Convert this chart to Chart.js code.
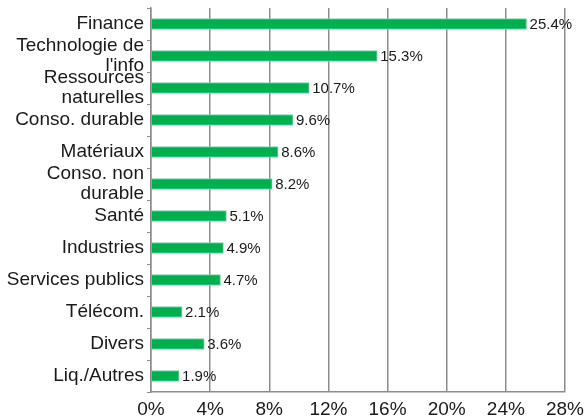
<!DOCTYPE html>
<html>
<head>
<meta charset="utf-8">
<script src="https://cdn.jsdelivr.net/npm/chart.js@4/dist/chart.umd.min.js"></script>
<style>
  html, body { margin: 0; padding: 0; background: #fff; }
  #wrap { width: 584px; height: 418px; }
</style>
</head>
<body>
<div id="wrap"><canvas id="secteursChart" width="584" height="418"></canvas></div>
<script>
const secteurs = [
    'Finance', ['Technologie de', "l'info"], ['Ressources', 'naturelles'], 'Conso. durable',
    'Matériaux', ['Conso. non', 'durable'], 'Santé', 'Industries', 'Services publics',
    'Télécom.', 'Divers', 'Liq./Autres'
];
const poids = [25.4, 15.3, 10.7, 9.6, 8.6, 8.2, 5.1, 4.9, 4.7, 2.1, 3.6, 1.9];
const xTicks = [0, 4, 8, 12, 16, 20, 24, 28];

const gris = '#8c8c8c';
const police = 'Liberation Sans, Arial, sans-serif';

// étiquettes de valeur au bout de chaque barre
const valeurPlugin = {
    id: 'valeurs',
    afterDatasetsDraw(chart) {
        const ctx = chart.ctx;
        const meta = chart.getDatasetMeta(0);
        ctx.save();
        ctx.font = '15px ' + police;
        ctx.fillStyle = '#1a1a1a';
        ctx.textAlign = 'left';
        ctx.textBaseline = 'middle';
        meta.data.forEach((bar, idx) => {
            ctx.fillText(poids[idx].toFixed(1) + '%', bar.x + 3, bar.y + 1);
        });
        ctx.restore();
    }
};

const ctx = document.getElementById('secteursChart').getContext('2d');
const chart = new Chart(ctx, {
    type: 'bar',
    data: {
        labels: secteurs,
        datasets: [{
            data: poids,
            backgroundColor: '#00b050',
            borderColor: '#7fd6a6',
            borderWidth: { top: 1, bottom: 1, right: 1, left: 0 },
            borderSkipped: 'start',
            barThickness: 11,
        }],
    },
    options: {
        indexAxis: 'y',
        responsive: false,
        animation: false,
        layout: { padding: { top: 8, right: 19, left: 0, bottom: 0 } },
        plugins: {
            legend: { display: false },
            tooltip: { enabled: false },
        },
        scales: {
            x: {
                min: 0,
                max: 28,
                afterBuildTicks: (scale) => { scale.ticks = xTicks.map(v => ({ value: v })); },
                afterFit: (scale) => {
                    scale.height = 26;
                    scale.paddingLeft = 0;
                    scale.paddingRight = 0;
                },
                ticks: {
                    callback: (v) => v + '%',
                    color: '#1a1a1a',
                    font: { family: police, size: 19 },
                    padding: 6,
                    maxRotation: 0,
                },
                grid: { color: gris, lineWidth: 1.5, drawTicks: false },
                border: { color: gris, width: 1.5 },
            },
            y: {
                afterFit: (scale) => {
                    scale.width = 151;
                    scale.paddingTop = 0;
                    scale.paddingBottom = 0;
                },
                ticks: {
                    color: '#1a1a1a',
                    font: { family: police, size: 19, lineHeight: 1.07 },
                    padding: 3,
                    autoSkip: false,
                },
                grid: { drawOnChartArea: false, drawTicks: true, tickLength: 4, color: gris, lineWidth: 1, offset: true },
                border: { color: gris, width: 1.5 },
            },
        },
    },
    plugins: [valeurPlugin],
});
</script>
</body>
</html>
